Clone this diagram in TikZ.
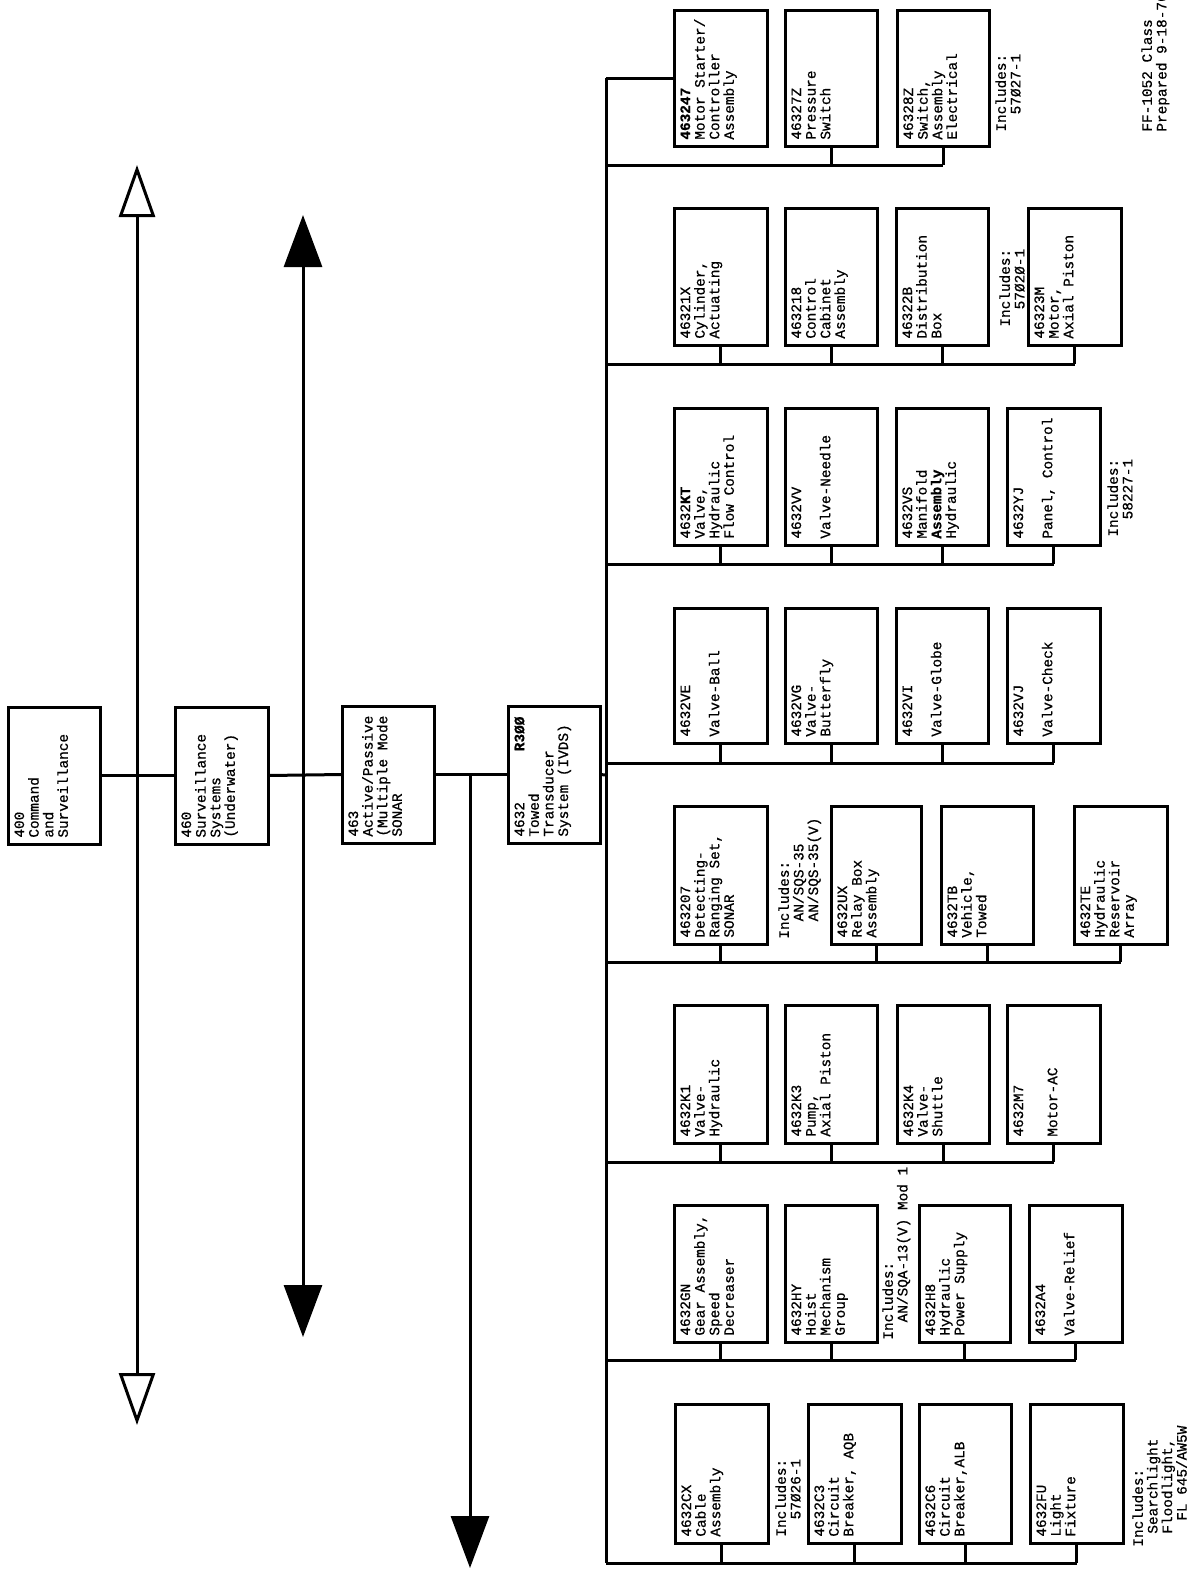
\documentclass[tikz,border=0pt]{standalone}
\usepackage{fontspec}
\setmainfont{Liberation Mono}[FakeBold=0.7]
\usetikzlibrary{arrows.meta}
\newcommand\boxfont{\fontsize{7.2}{7.3}\selectfont}
\newlength\chw
\setlength\chw{4.32pt}
\newcommand\sk[1]{\hspace*{#1\chw}}
\newcommand\gap{\\[7.3pt]}
\newcommand\bx[6]{%
  \node[boxst, minimum width={(#4-#2)*0.5pt}, minimum height={(#5-#3)*0.5pt}] (#1) at ({(#2+#4)/2},{(#3+#5)/2}) {};
  \node[boxtxt] (#1t) at (#1.south west) {#6};
}
\newcommand\stub[2]{\draw[conn] (#1.south) -- (#1.south |- #2);}
\begin{document}
\begin{tikzpicture}[x=0.5pt,y=-0.5pt,
  boxst/.style={draw, line width=1.5pt, rectangle, inner sep=0pt, outer sep=0pt},
  boxtxt/.style={rotate=90, anchor=north west, align=left, inner sep=3pt, font=\boxfont},
  freetxt/.style={rotate=90, anchor=north west, align=left, inner sep=0pt, font=\boxfont},
  conn/.style={line width=1.5pt}]
\useasboundingbox (0,0) rectangle (1187,1570);

% main chain
\bx{b400}{8}{707}{100}{844}{400\\Command\\and\\Surveillance}
\bx{b460}{175}{707}{268}{844}{460\\Surveillance\\Systems\\(Underwater)}
\bx{b463}{342}{706}{434}{843}{463\\Active/Passive\\(Multiple Mode\\SONAR}
\bx{b4632}{508}{706}{600}{843}{\makebox[60pt][l]{4632\hfill\textbf{R3ØØ}}\\Towed\\Transducer\\System (IVDS)}

% group 1
\bx{b463247}{674}{10}{767}{146}{\textbf{463247}\\Motor Starter/\\Controller\\Assembly}
\bx{b46327Z}{785}{10}{877}{146}{46327Z\\Pressure\\Switch}
\bx{b46328Z}{897}{10}{989}{146}{46328Z\\Switch,\\Assembly\\Electrical}
% group 2
\bx{b46321X}{674}{208}{767}{345}{46321X\\Cylinder,\\Actuating}
\bx{b463218}{785}{208}{877}{345}{463218\\Control\\Cabinet\\Assembly}
\bx{b46322B}{896}{208}{988}{345}{46322B\\Distribution\\Box}
\bx{b46323M}{1028}{208}{1121}{345}{46323M\\Motor,\\Axial Piston}
% group 3
\bx{b4632KT}{674}{408}{767}{545}{4632\textbf{KT}\\Valve,\\Hydraulic\\Flow Control}
\bx{b4632VV}{785}{408}{877}{545}{4632VV\gap Valve-Needle}
\bx{b4632VS}{896}{408}{988}{545}{4632VS\\Manifold\\\textbf{Assembly}\\Hydraulic}
\bx{b4632YJ}{1007}{408}{1100}{545}{4632YJ\gap Panel, Control}
% group 4
\bx{b4632VE}{674}{608}{767}{743}{4632VE\gap Valve-Ball}
\bx{b4632VG}{785}{608}{877}{743}{4632VG\\Valve-\\Butterfly}
\bx{b4632VI}{896}{608}{988}{743}{4632VI\gap Valve-Globe}
\bx{b4632VJ}{1007}{608}{1100}{743}{4632VJ\gap Valve-Check}
% group 5
\bx{b463207}{674}{806}{767}{944}{463207\\Detecting-\\Ranging Set,\\SONAR}
\bx{b4632UX}{831}{806}{921}{944}{4632UX\\Relay Box\\Assembly}
\bx{b4632TB}{941}{806}{1033}{944}{4632TB\\Vehicle,\\Towed}
\bx{b4632TE}{1074}{806}{1167}{944}{4632TE\\Hydraulic\\Reservoir\\Array}
% group 6
\bx{b4632K1}{674}{1005}{767}{1143}{4632K1\\Valve-\\Hydraulic}
\bx{b4632K3}{785}{1005}{877}{1143}{4632K3\\Pump,\\Axial Piston}
\bx{b4632K4}{897}{1005}{989}{1143}{4632K4\\Valve-\\Shuttle}
\bx{b4632M7}{1007}{1005}{1100}{1143}{4632M7\\[9.8pt]Motor-AC}
% group 7
\bx{b4632GN}{674}{1205}{767}{1342}{4632GN\\Gear Assembly,\\Speed\\Decreaser}
\bx{b4632HY}{785}{1205}{877}{1342}{4632HY\\Hoist\\Mechanism\\Group}
\bx{b4632H8}{919}{1205}{1010}{1342}{4632H8\\Hydraulic\\Power Supply}
\bx{b4632A4}{1029}{1205}{1122}{1342}{4632A4\gap Valve-Relief}
% group 8
\bx{b4632CX}{675}{1404}{768}{1543}{4632CX\\Cable\\Assembly}
\bx{b4632C3}{808}{1404}{901}{1543}{4632C3\\Circuit\\Breaker, AQB}
\bx{b4632C6}{919}{1404}{1011}{1543}{4632C6\\Circuit\\Breaker,ALB}
\bx{b4632FU}{1030}{1404}{1123}{1543}{4632FU\\Light\\Fixture}

% trunk
\coordinate (busM) at (606,775);
\coordinate (j470) at (470,775);
\draw[conn] (b400.east) -- (b460.west);
\draw[conn] (b460.east) -- (b463.west);
\draw[conn] (b463.east) -- (b4632.west);
\draw[conn] (b4632.east) -- (busM);

% bus
\coordinate (bus0) at (606,78);
\coordinate (g1) at (606,165);
\coordinate (g2) at (606,364);
\coordinate (g3) at (606,564);
\coordinate (g4) at (606,763);
\coordinate (g5) at (606,962);
\coordinate (g6) at (606,1162);
\coordinate (g7) at (606,1360);
\coordinate (g8) at (606,1563);
\draw[conn] (bus0) -- (g8);
\draw[conn] (bus0) -- (b463247.west);

\draw[conn] (g1) -- (b46328Z.south |- g1);
\stub{b46327Z}{g1}\stub{b46328Z}{g1}
\draw[conn] (g2) -- (b46323M.south |- g2);
\stub{b46321X}{g2}\stub{b463218}{g2}\stub{b46322B}{g2}\stub{b46323M}{g2}
\draw[conn] (g3) -- (b4632YJ.south |- g3);
\stub{b4632KT}{g3}\stub{b4632VV}{g3}\stub{b4632VS}{g3}\stub{b4632YJ}{g3}
\draw[conn] (g4) -- (b4632VJ.south |- g4);
\stub{b4632VE}{g4}\stub{b4632VG}{g4}\stub{b4632VI}{g4}\stub{b4632VJ}{g4}
\draw[conn] (g5) -- (b4632TE.south |- g5);
\stub{b463207}{g5}\stub{b4632UX}{g5}\stub{b4632TB}{g5}\stub{b4632TE}{g5}
\draw[conn] (g6) -- (b4632M7.south |- g6);
\stub{b4632K1}{g6}\stub{b4632K3}{g6}\stub{b4632K4}{g6}\stub{b4632M7}{g6}
\draw[conn] (g7) -- (b4632A4.south |- g7);
\stub{b4632GN}{g7}\stub{b4632HY}{g7}\stub{b4632H8}{g7}\stub{b4632A4}{g7}
\draw[conn] (g8) -- (b4632FU.south |- g8);
\stub{b4632CX}{g8}\stub{b4632C3}{g8}\stub{b4632C6}{g8}\stub{b4632FU}{g8}

% arrows
\coordinate (hT) at (137,165);
\coordinate (hB) at (137,1425);
\draw[conn, {Triangle[open,length=26pt,width=18pt]}-{Triangle[open,length=26pt,width=18pt]}] (hT) -- (hB);
\coordinate (sT) at (303,215);
\coordinate (sB) at (303,1337);
\draw[conn, {Triangle[length=26pt,width=19pt]}-{Triangle[length=26pt,width=19pt]}] (sT) -- (sB);
\coordinate (aB) at (470,1568);
\draw[conn, -{Triangle[length=26pt,width=19pt]}] (j470) -- (aB);

% free texts
\node[freetxt] (inc1) at (995,132) {Includes:\\\sk{2}57Ø27-1};
\node[freetxt] (inc2) at (999,327) {Includes:\\\sk{2}57Ø2Ø-1};
\node[freetxt] (inc3) at (1107,537) {Includes:\\\sk{2}58227-1};
\node[freetxt] (inc4) at (778,939) {Includes:\\\sk{2}AN/SQS-35\\\sk{2}AN/SQS-35(V)};
\node[freetxt] (inc5) at (882,1340) {Includes:\\\sk{2}AN/SQA-13(V) Mod 1};
\node[freetxt] (inc6) at (775,1537) {Includes:\\\sk{2}57Ø26-1};
\node[freetxt] (inc7) at (1132,1547) {Includes:\\\sk{1.5}Searchlight\\\sk{1.5}Floodlight,\\\sk{3}FL 645/AW5W};
\node[freetxt] (ff) at (1141,132) {FF-1052 Class\\Prepared 9-18-76};
\end{tikzpicture}
\end{document}
